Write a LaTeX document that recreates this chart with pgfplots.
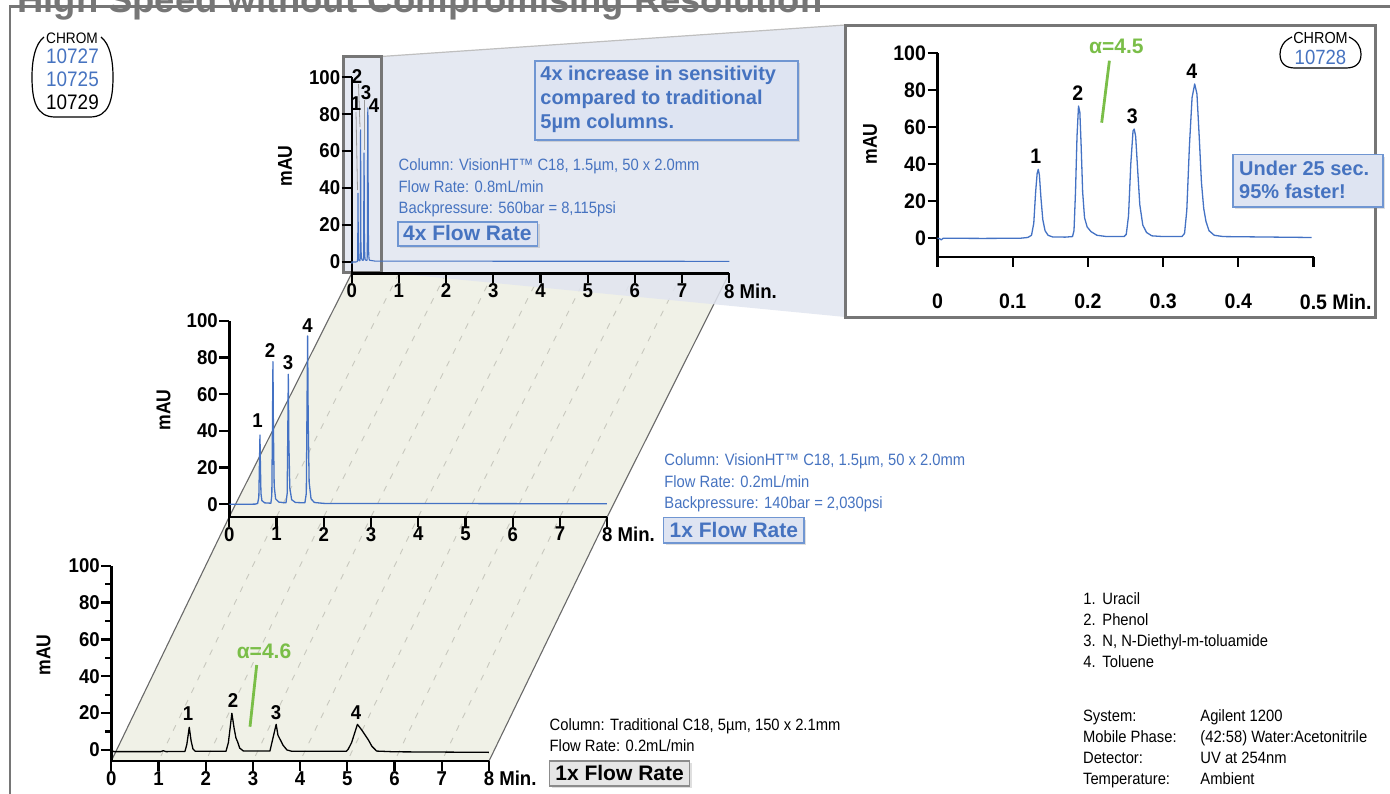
\documentclass[border=0pt]{standalone}
\usepackage{pgfplots}
\pgfplotsset{compat=1.18}
\usepackage{pgfplotstable}
\usepackage{fontspec}
\setmainfont{Liberation Sans}
\newfontfamily\condf[FakeStretch=0.9]{Liberation Sans}
\newfontfamily\tickff[FakeStretch=0.93]{Liberation Sans}
\newfontfamily\mauff[FakeStretch=0.88]{Liberation Sans}
\usetikzlibrary{shadows}

\definecolor{trace}{RGB}{68,114,196}
\definecolor{txtblue}{RGB}{70,115,192}
\definecolor{boxfill}{RGB}{222,228,242}
\definecolor{boxline}{RGB}{112,150,210}
\definecolor{lav}{RGB}{225,229,240}
\definecolor{beige}{RGB}{240,241,231}
\definecolor{frameg}{RGB}{118,118,118}
\definecolor{agreen}{RGB}{122,190,72}
\definecolor{dashg}{RGB}{200,200,190}
\definecolor{edgeg}{RGB}{105,105,105}
\definecolor{graybox}{RGB}{230,230,230}

\newcommand\tickfont{\tickff\bfseries\fontsize{10}{12}\selectfont}
\newcommand\insettickfont{\tickff\bfseries\fontsize{10.5}{12}\selectfont}
\newcommand\bodyfont{\condf\fontsize{8.2}{10}\selectfont}
\newcommand\boxfont{\bfseries\fontsize{10}{12}\selectfont}
\newcommand\maufont{\mauff\bfseries\fontsize{10}{12}\selectfont}
\newcommand\peakfont{\tickff\bfseries\fontsize{10}{12}\selectfont}

% 4x flow rate chromatogram (time in min, mAU)
\pgfplotstableread{
t a
0.000 0.0
0.003 -0.4
0.005 -1.0
0.007 -0.2
0.010 -0.1
0.060 -0.2
0.110 -0.1
0.120 0.3
0.125 1.5
0.128 8
0.1305 25
0.1325 35
0.1340 37.2
0.1355 34
0.1375 22
0.1400 10
0.1430 4
0.1470 1.5
0.1530 0.6
0.1700 0.5
0.1795 0.8
0.1815 4
0.1835 25
0.1855 55
0.1875 71.5
0.1893 68
0.1910 50
0.1930 25
0.1955 11
0.1990 6
0.2040 3.5
0.2120 1.5
0.2250 0.8
0.2480 0.8
0.2510 2
0.2540 12
0.2570 40
0.2600 58
0.2616 59
0.2635 55
0.2660 38
0.2690 18
0.2730 7
0.2780 3
0.2850 1.2
0.3000 0.8
0.3250 0.8
0.3285 2.5
0.3315 15
0.3350 50
0.3385 76
0.3420 83.4
0.3450 78
0.3480 55
0.3510 30
0.3540 16
0.3570 9
0.3610 4
0.3680 1.5
0.3800 0.8
0.4975 0.3
8.0000 0.2
}\fourx

% 1x flow rate, VisionHT 1.5um
\pgfplotstableread{
t a
0.00 0.0
0.55 0.1
0.60 0.5
0.625 4
0.640 25
0.649 37.7
0.658 22
0.670 6
0.690 2
0.750 0.8
0.880 0.6
0.900 5
0.914 45
0.924 77.7
0.934 40
0.950 10
0.980 3
1.050 1.2
1.200 0.8
1.225 6
1.240 45
1.249 70.8
1.260 35
1.280 9
1.320 2.5
1.400 1
1.600 0.8
1.630 6
1.647 60
1.658 91.7
1.670 45
1.690 12
1.730 3
1.800 1
2.000 0.5
7.990 0.3
}\onex

% Traditional C18 5um
\pgfplotstableread{
t a
0.00 0.0
0.05 -0.9
1.05 -0.9
1.10 -0.4
1.16 -0.9
1.56 -0.8
1.60 3
1.651 12.3
1.69 5
1.73 0.5
1.78 -0.7
2.43 -0.7
2.48 4
2.554 19.9
2.60 12
2.64 6.5
2.674 4.5
2.72 1
2.80 -0.6
3.36 -0.6
3.42 6
3.492 13.9
3.53 8
3.58 5.5
3.64 2.5
3.72 0
3.82 -0.7
4.98 -0.7
5.02 0.5
5.09 4
5.213 13.9
5.30 11
5.446 5.4
5.52 2
5.62 -0.6
6.00 -1.0
8.00 -1.3
}\trad

\pgfplotsset{chrom/.style={
  scale only axis, anchor=south west,
  axis x line=bottom, axis y line=left,
  axis line style={-, line width=1.2pt},
  tick style={black, line width=1.1pt},
  major tick length=5pt, minor tick length=3pt, tick align=outside,
  xmin=0, xmax=8, xtick={0,1,2,3,4,5,6,7,8},
  xticklabels={0,1,2,3,4,5,6,7,{8\rlap{ Min.}}},
  ymax=100, ytick={0,20,40,60,80,100},
  tick label style={font=\tickfont},
  yticklabel style={inner sep=0.6pt},
  xticklabel style={inner sep=0pt, yshift=0pt},
  /pgf/number format/assume math mode=true,
  clip=false,
  every axis plot/.append style={line width=0.65pt, line join=round},
}}

\begin{document}
\begin{tikzpicture}[x=0.5pt,y=-0.5pt]
\useasboundingbox (0,0) rectangle (1390,793);
\clip (0,0) rectangle (1390,793);

% frame and title
\node[anchor=base west, inner sep=0, text=frameg, font=\bfseries\fontsize{18.2}{20}\selectfont] at (17,12) {High Speed without Compromising Resolution};
\draw[frameg, line width=1.25pt] (10,800) -- (10,6.5) -- (1400,6.5);

% beige floors
\fill[beige] (351.7,273.3) -- (729.3,273.3) -- (607.3,516.7) -- (229.3,516.7) -- cycle;
\fill[beige] (229.3,516.7) -- (607.3,516.7) -- (489,761) -- (111.3,761) -- cycle;
\foreach \k in {1,...,7}{
  \draw[dashg, line width=0.45pt, dash pattern=on 3pt off 4pt] ({351.7+47.2*\k},273.3) -- ({229.3+47.25*\k},516.7) -- ({111.3+47.21*\k},761);
}
\draw[edgeg, line width=0.55pt] (351.7,273.3) -- (229.3,516.7) -- (111.3,761);
\draw[edgeg, line width=0.55pt] (729.3,273.3) -- (607.3,516.7) -- (489,761);

% lavender zoom projection
\fill[lav, opacity=0.85] (343,56.5) -- (381,56.5) -- (845.3,25) -- (845.3,317) -- (381,272) -- (343,272) -- cycle;
\draw[black!25, line width=0.6pt] (381,56.5) -- (845.3,25);

% small highlight box
\draw[frameg, line width=1.5pt] (343.2,56.5) rectangle (381.2,272);

% inset box
\filldraw[fill=white, draw=frameg, line width=1.5pt] (845.3,25) rectangle (1375,317);

% ---- 4x axis (top) ----
\begin{axis}[chrom, at={(175.85pt,-136.65pt)}, width=188.8pt, height=98pt, ymin=-6.3]
\addplot[trace, line width=0.55pt] table[x=t,y=a] {\fourx};
\end{axis}

% ---- 1x axis (middle) ----
\begin{axis}[chrom, at={(114.65pt,-258.35pt)}, width=189pt, height=98pt, ymin=-6.75]
\addplot[trace] table[x=t,y=a] {\onex};
\end{axis}

% ---- traditional axis (bottom) ----
\begin{axis}[chrom, at={(55.65pt,-380.5pt)}, width=188.85pt, height=97.65pt, ymin=-6, minor y tick num=1]
\addplot[black] table[x=t,y=a] {\trad};
\end{axis}

% ---- inset ----
\begin{axis}[chrom, at={(468.75pt,-128.35pt)}, width=188pt, height=101.7pt, ymin=-10.1,
  xmin=0, xmax=0.5, xtick={0,0.1,0.2,0.3,0.4,0.5},
  xticklabels={0,0.1,0.2,0.3,0.4,{0.5\rlap{ Min.}}},
  tick label style={font=\insettickfont},
  xticklabel style={inner sep=0pt, yshift=-13.5pt}]
\addplot[trace, restrict x to domain=0:0.5] table[x=t,y=a] {\fourx};
\end{axis}

% y labels
\node[rotate=90, font=\maufont] at (285,166) {mAU};
\node[rotate=90, font=\maufont] at (163.5,410) {mAU};
\node[rotate=90, font=\maufont] at (43.5,655) {mAU};
\node[rotate=90, font=\maufont] at (870,144) {mAU};

% peak labels top (4x)
\draw[black!40, line width=0.4pt] (358.5,84) -- (360,127);
\draw[black!40, line width=0.4pt] (356,112) -- (357.5,190);
\draw[black!40, line width=0.4pt] (364,100) -- (364,150);
\node[font=\peakfont, inner sep=0] at (357,76.7) {2};
\node[font=\peakfont, inner sep=0] at (356,104) {1};
\node[font=\peakfont, inner sep=0] at (366,93) {3};
\node[font=\peakfont, inner sep=0] at (374,105.5) {4};

% peak labels middle
\node[font=\peakfont, inner sep=0] at (257.5,420.7) {1};
\node[font=\peakfont, inner sep=0] at (270,350.7) {2};
\node[font=\peakfont, inner sep=0] at (288,362.5) {3};
\node[font=\peakfont, inner sep=0] at (307.5,325.7) {4};

% peak labels bottom
\node[font=\peakfont, inner sep=0] at (188,714) {1};
\node[font=\peakfont, inner sep=0] at (233,700.8) {2};
\node[font=\peakfont, inner sep=0] at (276,712.5) {3};
\node[font=\peakfont, inner sep=0] at (356,712.5) {4};
\node[text=agreen, font=\bfseries\fontsize{10.5}{12}\selectfont, inner sep=0] at (264,650.8) {α=4.6};
\draw[agreen, line width=1.4pt] (256.7,665) -- (250,726.7);

% inset labels
\node[font=\insettickfont, inner sep=0] at (1035.7,156.7) {1};
\node[font=\insettickfont, inner sep=0] at (1077.8,93.3) {2};
\node[font=\insettickfont, inner sep=0] at (1132.2,116.7) {3};
\node[font=\insettickfont, inner sep=0] at (1191.8,71) {4};
\node[text=agreen, font=\bfseries\fontsize{10.5}{12}\selectfont, inner sep=0] at (1116.4,46.7) {α=4.5};
\draw[agreen, line width=1.4pt] (1109.4,60.7) -- (1101.7,122.7);

% inset CHROM badge
\draw[black, line width=0.6pt] (1292,37) .. controls (1283,41) and (1280,48) .. (1280,54) .. controls (1280,63) and (1285,68) .. (1295,68) -- (1346,68) .. controls (1356,68) and (1361,63) .. (1361,54) .. controls (1361,48) and (1358,41) .. (1349,37);
\node[font=\condf\fontsize{8}{9}\selectfont, inner sep=0] at (1320.5,38.3) {CHROM};
\node[font=\condf\fontsize{10.3}{11}\selectfont, text=txtblue, inner sep=0] at (1320.5,57.3) {10728};

% top-left CHROM badge
\draw[black, line width=0.6pt] (44,37) .. controls (35,44) and (32,60) .. (32,77) .. controls (32,100) and (36,117) .. (55,117) -- (90,117) .. controls (109,117) and (113,100) .. (113,77) .. controls (113,60) and (110,44) .. (101,37);
\node[font=\condf\fontsize{7.6}{9}\selectfont, inner sep=0] at (72,38) {CHROM};
\node[font=\condf\fontsize{10.5}{11}\selectfont, text=txtblue, inner sep=0] at (72.5,56.7) {10727};
\node[font=\condf\fontsize{10.5}{11}\selectfont, text=txtblue, inner sep=0] at (72.5,79.5) {10725};
\node[font=\condf\fontsize{10.5}{11}\selectfont, inner sep=0] at (72.5,102.5) {10729};

% Under 25 sec box
\filldraw[draw=boxline, fill=boxfill, line width=0.8pt, drop shadow={shadow xshift=1.2pt, shadow yshift=-1.2pt, opacity=0.25}] (1232.8,154.3) rectangle (1383,206.7);
\node[anchor=base west, inner sep=0, text=txtblue, font=\boxfont] at (1238.8,175) {Under 25 sec.};
\node[anchor=base west, inner sep=0, text=txtblue, font=\boxfont] at (1238.8,198.3) {95\% faster!};

% 4x increase box
\filldraw[draw=boxline, fill=boxfill, line width=0.8pt, drop shadow={shadow xshift=1.2pt, shadow yshift=-1.2pt, opacity=0.25}] (535,60.7) rectangle (797.7,140);
\node[anchor=base west, inner sep=0, text=txtblue, font=\boxfont] at (540,80) {4x increase in sensitivity};
\node[anchor=base west, inner sep=0, text=txtblue, font=\boxfont] at (540,104) {compared to traditional};
\node[anchor=base west, inner sep=0, text=txtblue, font=\boxfont] at (540,128.3) {5µm columns.};

% 4x text block
\node[anchor=base west, inner sep=0, text=txtblue, font=\bodyfont] at (398.3,170.7) {Column: VisionHT™ C18, 1.5µm, 50 x 2.0mm};
\node[anchor=base west, inner sep=0, text=txtblue, font=\bodyfont] at (398.3,192.5) {Flow Rate: 0.8mL/min};
\node[anchor=base west, inner sep=0, text=txtblue, font=\bodyfont] at (398.3,213.5) {Backpressure: 560bar = 8,115psi};
\filldraw[draw=boxline, fill=boxfill, line width=0.8pt, drop shadow={shadow xshift=1.2pt, shadow yshift=-1.2pt, opacity=0.25}] (397.7,221.7) rectangle (537.3,246);
\node[anchor=base west, inner sep=0, text=txtblue, font=\bfseries\fontsize{10.5}{12}\selectfont] at (402.7,240) {4x Flow Rate};

% 1x text block (middle)
\node[anchor=base west, inner sep=0, text=txtblue, font=\bodyfont] at (664,465.7) {Column: VisionHT™ C18, 1.5µm, 50 x 2.0mm};
\node[anchor=base west, inner sep=0, text=txtblue, font=\bodyfont] at (664,487.5) {Flow Rate: 0.2mL/min};
\node[anchor=base west, inner sep=0, text=txtblue, font=\bodyfont] at (664,508.3) {Backpressure: 140bar = 2,030psi};
\filldraw[draw=boxline, fill=boxfill, line width=0.8pt, drop shadow={shadow xshift=1.2pt, shadow yshift=-1.2pt, opacity=0.25}] (663.3,517.3) rectangle (804,542.7);
\node[anchor=base west, inner sep=0, text=txtblue, font=\bfseries\fontsize{10.5}{12}\selectfont] at (669.3,537.3) {1x Flow Rate};

% traditional text block (bottom)
\node[anchor=base west, inner sep=0, font=\bodyfont] at (549.3,730.7) {Column: Traditional C18, 5µm, 150 x 2.1mm};
\node[anchor=base west, inner sep=0, font=\bodyfont] at (549.3,751.7) {Flow Rate: 0.2mL/min};
\filldraw[draw=black!45, fill=graybox, line width=0.8pt, drop shadow={shadow xshift=1.2pt, shadow yshift=-1.2pt, opacity=0.25}] (549.3,760.7) rectangle (689.3,785.7);
\node[anchor=base west, inner sep=0, font=\bfseries\fontsize{10.5}{12}\selectfont] at (555,780.7) {1x Flow Rate};

% compound list
\foreach \n/\name/\yy in {1/Uracil/604, 2/Phenol/625, 3/{N, N-Diethyl-m-toluamide}/646, 4/Toluene/667}{
  \node[anchor=base west, inner sep=0, font=\bodyfont] at (1083,\yy) {\n.};
  \node[anchor=base west, inner sep=0, font=\bodyfont] at (1102,\yy) {\name};
}
\foreach \a/\b/\yy in {System:/Agilent 1200/721, Mobile Phase:/{(42:58) Water:Acetonitrile}/742, Detector:/UV at 254nm/763, Temperature:/Ambient/784}{
  \node[anchor=base west, inner sep=0, font=\bodyfont] at (1082.7,\yy) {\a};
  \node[anchor=base west, inner sep=0, font=\bodyfont] at (1200,\yy) {\b};
}
\end{tikzpicture}
\end{document}
